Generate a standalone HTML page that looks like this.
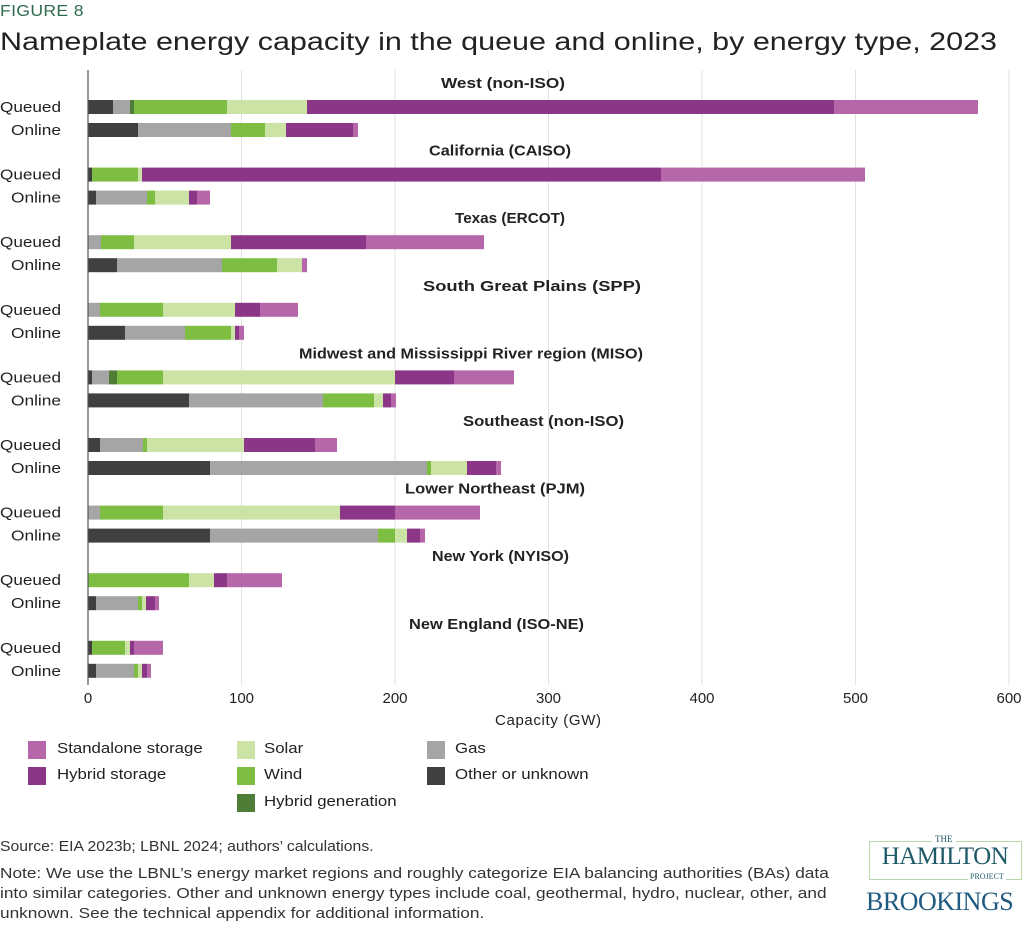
<!DOCTYPE html><html><head><style>
body{margin:0;width:1024px;height:928px;background:#fff;font-family:"Liberation Sans",sans-serif;position:relative;overflow:hidden;color:#222}
.a{position:absolute;white-space:nowrap;transform-origin:0 0}
</style></head><body>
<div class="a" style="left:0;top:3px;font-size:16px;color:#2e6b4f;letter-spacing:0.3px;transform:scaleX(1.1)">FIGURE 8</div>
<div class="a" style="left:0;top:28px;font-size:25px;color:#222;transform:scaleX(1.22)">Nameplate energy capacity in the queue and online, by energy type, 2023</div>
<svg class="a" style="left:0;top:0" width="1024" height="740" id="c">
<g stroke="#e2e2e2" stroke-width="1">
<line x1="241.5" y1="70" x2="241.5" y2="685"/><line x1="395" y1="70" x2="395" y2="685"/><line x1="548.5" y1="70" x2="548.5" y2="685"/><line x1="702" y1="70" x2="702" y2="685"/><line x1="855.5" y1="70" x2="855.5" y2="685"/><line x1="1009" y1="70" x2="1009" y2="685"/>
</g>
<g id="bars"></g>
<line x1="88" y1="70" x2="88" y2="685" stroke="#555" stroke-width="1.2"/>
<g font-size="15" fill="#222" font-family="Liberation Sans,sans-serif">
<text x="88" y="703" text-anchor="middle">0</text><text x="241.5" y="703" text-anchor="middle">100</text><text x="395" y="703" text-anchor="middle">200</text><text x="548.5" y="703" text-anchor="middle">300</text><text x="702" y="703" text-anchor="middle">400</text><text x="855.5" y="703" text-anchor="middle">500</text><text x="1009" y="703" text-anchor="middle">600</text>
<text x="548" y="725" text-anchor="middle" textLength="106">Capacity  (GW)</text>
</g>
<g id="lab" font-size="15" fill="#222"></g>
<g id="tit" font-size="15" font-weight="bold" fill="#222"></g>
</svg>
<script>
var C={o:"#404040",g:"#a5a5a5",h:"#4e7d37",w:"#7dbd42",s:"#cce3a6",y:"#8c3688",a:"#b567aa"};
var D=[
["West (non-ISO)",441,565,[["o",113],["g",130],["h",134],["w",227],["s",307],["y",834],["a",978]],[["o",138],["g",231],["w",265],["s",286],["y",353],["a",358]]],
["California (CAISO)",429,571,[["o",92],["w",138],["s",142],["y",661],["a",865]],[["o",96],["g",147],["w",155],["s",189],["y",197],["a",210]]],
["Texas (ERCOT)",455,565,[["g",101],["w",134],["s",231],["y",366],["a",484]],[["o",117],["g",222],["w",277],["s",302],["a",307]]],
["South Great Plains (SPP)",423,641,[["g",100],["w",163],["s",235],["y",260],["a",298]],[["o",125],["g",185],["w",231],["s",235],["y",239],["a",244]]],
["Midwest and Mississippi River region (MISO)",299,643,[["o",92],["g",109],["h",117],["w",163],["s",395],["y",454],["a",514]],[["o",189],["g",323],["w",374],["s",383],["y",391],["a",396]]],
["Southeast (non-ISO)",463,624,[["o",100],["g",143],["w",147],["s",244],["y",315],["a",337]],[["o",210],["g",427],["w",431],["s",467],["y",496],["a",501]]],
["Lower Northeast (PJM)",405,585,[["g",100],["w",163],["s",340],["y",395],["a",480]],[["o",210],["g",378],["w",395],["s",407],["y",420],["a",425]]],
["New York (NYISO)",432,569,[["w",189],["s",214],["y",227],["a",282]],[["o",96],["g",138],["w",142],["s",146],["y",155],["a",159]]],
["New England (ISO-NE)",409,584,[["o",92],["w",125],["s",130],["y",134],["a",163]],[["o",96],["g",134],["w",138],["s",142],["y",147],["a",151]]]];
var ns="http://www.w3.org/2000/svg",B=document.getElementById("bars"),L=document.getElementById("lab"),T=document.getElementById("tit");
function el(p,t,a,tx){var e=document.createElementNS(ns,t);for(var k in a)e.setAttribute(k,a[k]);if(tx)e.textContent=tx;p.appendChild(e);}
D.forEach(function(d,i){var q=100+67.6*i,o=123+67.6*i;
el(T,"text",{x:d[1],y:q-12,textLength:d[2]-d[1],lengthAdjust:"spacingAndGlyphs"},d[0]);
el(L,"text",{x:0,y:q+12,textLength:61,lengthAdjust:"spacingAndGlyphs"},"Queued");el(L,"text",{x:11,y:o+12,textLength:50,lengthAdjust:"spacingAndGlyphs"},"Online");
[[d[3],q],[d[4],o]].forEach(function(r){var x=88;r[0].forEach(function(s){el(B,"rect",{x:x,y:r[1],width:s[1]-x,height:14,fill:C[s[0]]});x=s[1];});});
});
</script>
<div class="a" style="left:28px;top:741px;width:18px;height:18px;background:#b567aa"></div>
<div class="a" style="left:57px;top:740px;font-size:15px;transform:scaleX(1.12)">Standalone storage</div>
<div class="a" style="left:28px;top:767px;width:18px;height:18px;background:#8c3688"></div>
<div class="a" style="left:57px;top:766px;font-size:15px;transform:scaleX(1.12)">Hybrid storage</div>
<div class="a" style="left:237px;top:741px;width:18px;height:18px;background:#cce3a6"></div>
<div class="a" style="left:264px;top:740px;font-size:15px;transform:scaleX(1.12)">Solar</div>
<div class="a" style="left:237px;top:767px;width:18px;height:18px;background:#7dbd42"></div>
<div class="a" style="left:264px;top:766px;font-size:15px;transform:scaleX(1.12)">Wind</div>
<div class="a" style="left:237px;top:794px;width:18px;height:18px;background:#4e7d37"></div>
<div class="a" style="left:264px;top:793px;font-size:15px;transform:scaleX(1.12)">Hybrid generation</div>
<div class="a" style="left:427px;top:741px;width:18px;height:18px;background:#a5a5a5"></div>
<div class="a" style="left:455px;top:740px;font-size:15px;transform:scaleX(1.12)">Gas</div>
<div class="a" style="left:427px;top:767px;width:18px;height:18px;background:#404040"></div>
<div class="a" style="left:455px;top:766px;font-size:15px;transform:scaleX(1.12)">Other or unknown</div>
<div class="a" style="left:0;top:838px;font-size:15px;color:#333;transform:scaleX(1.05)">Source: EIA 2023b; LBNL 2024; authors’ calculations.</div>
<div class="a" style="left:0;top:864px;font-size:15px;line-height:20px;color:#333;transform:scaleX(1.15)">Note: We use the LBNL’s energy market regions and roughly categorize EIA balancing authorities (BAs) data<br>into similar categories. Other and unknown energy types include coal, geothermal, hydro, nuclear, other, and<br>unknown. See the technical appendix for additional information.</div>
<div class="a" style="left:869px;top:841px;width:151px;height:37px;border:1.5px solid #b9d7a8"></div>
<div class="a" style="left:932px;top:834px;font-size:9px;background:#fff;padding:0 3px;color:#1f5a68;font-family:'Liberation Serif',serif">THE</div>
<div class="a" style="left:872px;top:843px;width:146px;text-align:center;font-size:25px;color:#1f5a68;font-family:'Liberation Serif',serif;letter-spacing:-0.5px">HAMILTON</div>
<div class="a" style="left:968px;top:872px;font-size:8px;background:#fff;padding:0 2px;color:#1f5a68;font-family:'Liberation Serif',serif">PROJECT</div>
<div class="a" style="left:866px;top:887px;font-size:26px;color:#1f5a80;font-family:'Liberation Serif',serif;letter-spacing:-0.5px">BROOKINGS</div>
</body></html>
